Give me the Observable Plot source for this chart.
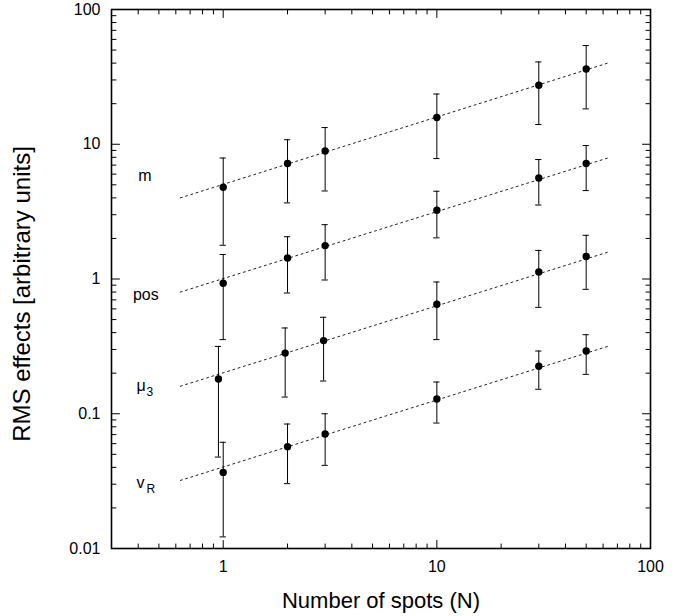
<!DOCTYPE html>
<html><head><meta charset="utf-8">
<script src="https://cdn.jsdelivr.net/npm/d3@7"></script>
<script src="https://cdn.jsdelivr.net/npm/@observablehq/plot@0.6"></script>
<style>body{margin:0;background:#fff} svg{display:block}</style>
</head><body><div id="chart"></div>
<script>
// ---- data ----
const nSpots = [1, 2, 3, 10, 30, 50];
const mu3Spots = [0.95, 1.95, 2.95, 10, 30, 50];

const mVal = [4.8, 7.2, 8.9, 15.8, 27.4, 36.2];
const mLo  = [1.78, 3.67, 4.5, 7.83, 14.0, 18.3];
const mHi  = [7.9, 10.8, 13.3, 23.6, 40.8, 54];

const posVal = [0.93, 1.43, 1.77, 3.24, 5.62, 7.19];
const posLo  = [0.355, 0.787, 0.983, 2.02, 3.54, 4.53];
const posHi  = [1.52, 2.06, 2.53, 4.48, 7.7, 9.78];

const mu3Val = [0.181, 0.282, 0.349, 0.649, 1.127, 1.47];
const mu3Lo  = [0.0477, 0.133, 0.175, 0.355, 0.616, 0.838];
const mu3Hi  = [0.316, 0.433, 0.52, 0.95, 1.63, 2.11];

const vRVal = [0.0367, 0.057, 0.0707, 0.1286, 0.225, 0.292];
const vRLo  = [0.0122, 0.0303, 0.0414, 0.0853, 0.152, 0.196];
const vRHi  = [0.0614, 0.0839, 0.1, 0.172, 0.292, 0.386];

// dotted fit lines: endpoints
const fitN = [0.63, 63];
const fitStart = [4.0, 0.80, 0.16, 0.032];
const fitEnd   = [40, 7.9, 1.58, 0.316];

const seriesNames = ["m", "pos", "mu3", "vR"];
const labelMain = ["m", "pos", "μ", "v"];
const labelSub  = ["", "", "3", "R"];
const labelX = [0.40, 0.378, 0.393, 0.393];
const labelY = [5.8, 0.76, 0.16, 0.0305];

const xMajor = [1, 10, 100];
const xMajorLabels = ["1", "10", "100"];
const xMinor = [0.4,0.5,0.6,0.7,0.8,0.9, 2,3,4,5,6,7,8,9, 20,30,40,50,60,70,80,90];
const yMajor = [0.01, 0.1, 1, 10, 100];
const yMajorLabels = ["0.01", "0.1", "1", "10", "100"];
const yMinor = [0.02,0.03,0.04,0.05,0.06,0.07,0.08,0.09, 0.2,0.3,0.4,0.5,0.6,0.7,0.8,0.9,
                2,3,4,5,6,7,8,9, 20,30,40,50,60,70,80,90];

const xTitle = "Number of spots (N)";
const yTitle = "RMS effects [arbitrary units]";

// ---- build tables ----
const vals = [mVal, posVal, mu3Val, vRVal];
const los = [mLo, posLo, mu3Lo, vRLo];
const his = [mHi, posHi, mu3Hi, vRHi];
const xs = [nSpots, nSpots, mu3Spots, nSpots];
const points = [];
seriesNames.forEach((s, i) => {
  xs[i].forEach((n, j) => points.push({s, n, v: vals[i][j], lo: los[i][j], hi: his[i][j]}));
});
const fitData = seriesNames.flatMap((s, i) => [
  {s, n: fitN[0], v: fitStart[i]}, {s, n: fitN[1], v: fitEnd[i]}
]);
const labels = seriesNames.map((s, i) => ({s, main: labelMain[i], sub: labelSub[i], x: labelX[i], y: labelY[i]}));

const capF = 1.034;
const tickShape = {draw(context, l) { context.moveTo(0, 0); context.lineTo(0, -l); }};
const X0 = 0.3, X1 = 100, Y0 = 0.01, Y1 = 100;
const font = "Liberation Sans, Arial, Helvetica, sans-serif";

function ticks(data, side, len) {
  const o = {anchor: "start", length: len, shape: tickShape, stroke: "black", strokeWidth: 1};
  if (side === "bottom") return Plot.vector(data, {...o, x: d => d, y: () => Y0, rotate: 0});
  if (side === "top") return Plot.vector(data, {...o, x: d => d, y: () => Y1, rotate: 180});
  if (side === "left") return Plot.vector(data, {...o, y: d => d, x: () => X0, rotate: 90});
  return Plot.vector(data, {...o, y: d => d, x: () => X1, rotate: 270});
}

const chart = Plot.plot({
  width: 694,
  height: 616,
  marginLeft: 111,
  marginRight: 44,
  marginTop: 9,
  marginBottom: 68,
  style: {fontFamily: font, fontSize: "16px", background: "#fff", color: "black"},
  x: {type: "log", domain: [X0, X1], axis: null},
  y: {type: "log", domain: [Y0, Y1], axis: null},
  marks: [
    Plot.line(fitData, {x: "n", y: "v", z: "s", stroke: "#222", strokeWidth: 1, strokeDasharray: "2,3.5"}),
    Plot.ruleX(points, {x: "n", y1: "lo", y2: "hi", stroke: "black", strokeWidth: 1}),
    Plot.ruleY(points, {y: "hi", x1: d => d.n / capF, x2: d => d.n * capF, stroke: "black", strokeWidth: 1}),
    Plot.ruleY(points, {y: "lo", x1: d => d.n / capF, x2: d => d.n * capF, stroke: "black", strokeWidth: 1}),
    Plot.dot(points, {x: "n", y: "v", r: 3.7, fill: "black", stroke: null}),
    Plot.text(labels, {x: "x", y: "y", text: "main", textAnchor: "start", fontSize: 16, fill: "black"}),
    Plot.text(labels, {x: "x", y: "y", text: "sub", textAnchor: "start", fontSize: 12, dx: 10, dy: 6, fill: "black"}),
    ticks(xMajor, "bottom", 8), ticks(xMinor, "bottom", 4.5),
    ticks(xMajor, "top", 8), ticks(xMinor, "top", 4.5),
    ticks(yMajor, "left", 8), ticks(yMinor, "left", 4.5),
    ticks(yMajor, "right", 8), ticks(yMinor, "right", 4.5),
    Plot.axisX(xMajor, {anchor: "bottom", tickSize: 0, tickPadding: 12, fontSize: 16, label: null,
      tickFormat: d => xMajorLabels[xMajor.indexOf(d)]}),
    Plot.axisY(yMajor, {anchor: "left", tickSize: 0, tickPadding: 11, fontSize: 16, label: null,
      tickFormat: d => yMajorLabels[yMajor.indexOf(d)]}),
    Plot.text([xTitle], {frameAnchor: "bottom", dy: 52, fontSize: 22, textAnchor: "middle", lineAnchor: "middle", fill: "black"}),
    Plot.text([yTitle], {frameAnchor: "left", dx: -89, dy: 15, rotate: -90, fontSize: 24, textAnchor: "middle", lineAnchor: "middle", fill: "black"}),
    Plot.frame({stroke: "black", strokeWidth: 1.6})
  ]
});
document.getElementById("chart").appendChild(chart);
</script>
</body></html>
